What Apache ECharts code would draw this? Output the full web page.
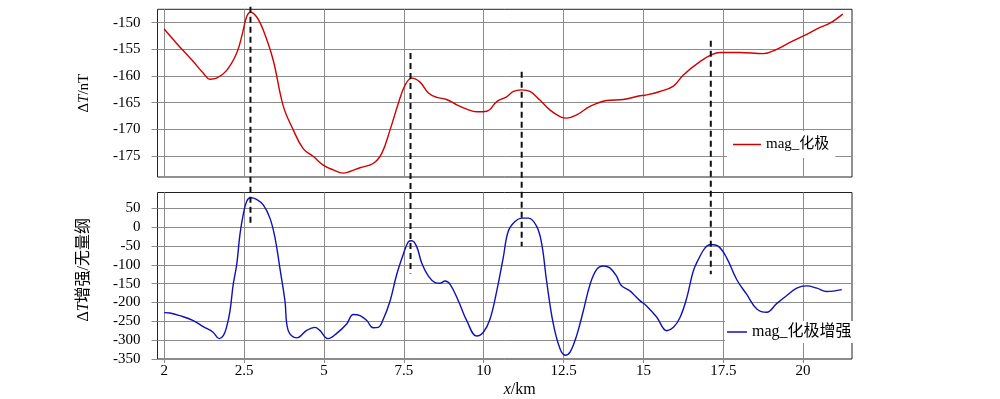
<!DOCTYPE html>
<html>
<head>
<meta charset="utf-8">
<script src="https://cdn.jsdelivr.net/npm/echarts@6/dist/echarts.min.js"></script>
<style>
html, body { margin: 0; padding: 0; background: #fff; }
#main { width: 1000px; height: 399px; }
</style>
</head>
<body>
<div id="main"></div>
<script>
// 横轴刻度（第一格标成 2）
var xTicks = [0, 2.5, 5, 7.5, 10, 12.5, 15, 17.5, 20];
var xTickLabels = ['2', '2.5', '5', '7.5', '10', '12.5', '15', '17.5', '20'];
var magTicks = [-175, -170, -165, -160, -155, -150];
var enhTicks = [-350, -300, -250, -200, -150, -100, -50, 0, 50];

// mag_化极
var magX = [0, 0.39, 0.91, 1.20, 1.43, 1.64, 1.95, 2.27, 2.45, 2.58, 2.70, 2.89, 3.10, 3.41, 3.73, 4.04, 4.35, 4.67, 4.98,
  5.29, 5.60, 5.81, 6.13, 6.54, 6.81, 7.07, 7.33, 7.54, 7.75, 8.00, 8.27, 8.53, 8.84, 9.16, 9.47, 9.78, 10.10,
  10.41, 10.72, 10.93, 11.19, 11.45, 11.76, 12.08, 12.39, 12.60, 12.91, 13.33, 13.85, 14.37, 14.89, 15.05, 15.52,
  15.94, 16.25, 16.77, 17.11, 17.40, 18.02, 18.75, 19.17, 19.59, 20.01, 20.53, 20.84, 21.24];
var magY = [-151.2, -153.9, -157.3, -159.3, -160.6, -160.4, -159.0, -155.7, -152.0, -148.9, -148.05, -148.9, -151.4, -157.0,
  -165.7, -170.1, -173.6, -175.1, -176.7, -177.6, -178.2, -177.9, -177.2, -176.4, -174.5, -170.1, -165.1, -161.7,
  -160.4, -161.1, -163.2, -164.0, -164.4, -165.4, -166.2, -166.7, -166.6, -164.8, -163.9, -162.9, -162.6, -162.9,
  -164.5, -166.4, -167.6, -167.9, -167.3, -165.7, -164.6, -164.4, -163.7, -163.6, -162.9, -161.9, -159.8, -157.3,
  -156.1, -155.6, -155.6, -155.8, -155.0, -153.7, -152.5, -150.9, -150.1, -148.4];

// mag_化极增强
var enhX = [0, 0.18, 0.49, 0.91, 1.22, 1.53, 1.72, 1.85, 1.95, 2.06, 2.16, 2.27, 2.37, 2.47, 2.58, 2.70, 2.89, 3.10,
  3.31, 3.47, 3.62, 3.78, 3.88, 4.15, 4.46, 4.72, 4.87, 5.13, 5.40, 5.71, 5.92, 6.13, 6.34, 6.54, 6.70, 6.86,
  7.07, 7.28, 7.48, 7.64, 7.75, 7.90, 8.06, 8.27, 8.48, 8.63, 8.79, 8.95, 9.21, 9.47, 9.78, 9.99, 10.20, 10.41,
  10.61, 10.77, 10.98, 11.19, 11.40, 11.66, 11.82, 11.97, 12.18, 12.39, 12.55, 12.71, 12.91, 13.12, 13.33, 13.54,
  13.75, 13.95, 14.16, 14.30, 14.58, 14.69, 14.89, 15.10, 15.42, 15.73, 15.94, 16.15, 16.36, 16.56, 16.72, 16.93,
  17.11, 17.35, 17.61, 17.92, 18.23, 18.55, 18.86, 19.17, 19.48, 19.80, 20.11, 20.43, 20.74, 21.21];
var enhY = [-227, -228, -235, -248, -264, -279, -296, -288, -266, -222, -152, -99, -20, 32, 68, 78, 74, 59,
  24, -29, -108, -196, -274, -294, -274, -266, -274, -296, -282, -257, -232, -235, -248, -267, -266, -244,
  -196, -125, -73, -39, -36, -51, -95, -130, -147, -149, -143, -152, -196, -248, -289, -279, -244, -169,
  -82, -11, 15, 24, 24, 2, -46, -143, -257, -323, -340, -331, -288, -222, -152, -112,
  -103, -108, -130, -154, -169, -178, -195, -209, -239, -275, -266, -239, -187, -117, -86, -55,
  -46, -51, -82, -139, -178, -217, -226, -203, -182, -162, -156, -162, -171, -166];

// 虚线：峰值位置，上端(化极 nT)，下端(增强)
var peakX = [2.70, 7.71, 11.19, 17.11];
var peakTopY = [-147, -155.7, -159.2, -153.4];
var peakBotY = [4, -123, -51, -125];

var font = "'Liberation Serif', 'Noto Sans CJK SC', serif";
var gridColor = '#8c8c8c';

function pairs(xs, ys) {
  return xs.map(function (x, i) { return [x, ys[i]]; });
}

var myChart = echarts.init(document.getElementById('main'));

myChart.setOption({
  animation: false,
  backgroundColor: '#fff',
  grid: [
    { left: 157.5, right: 148, top: 9.3, height: 167.7, show: true, borderColor: '#222', borderWidth: 1 },
    { left: 157.5, right: 148, top: 192.5, height: 167.5, show: true, borderColor: '#222', borderWidth: 1 }
  ],
  legend: [
    {
      data: ['mag_化极'], left: 727, top: 131, padding: 6, backgroundColor: '#fff',
      icon: 'rect', itemWidth: 28, itemHeight: 1.5, itemGap: 5,
      textStyle: { fontFamily: font, fontSize: 15, color: '#000' }
    },
    {
      data: ['mag_化极增强'], left: 725, top: 321, padding: [3, 2], backgroundColor: '#fff',
      icon: 'rect', itemWidth: 20, itemHeight: 1.5, itemGap: 6,
      textStyle: { fontFamily: font, fontSize: 16, color: '#000' }
    }
  ],
  xAxis: [
    {
      type: 'value', gridIndex: 0, min: -0.21, max: 21.53,
      axisLine: { show: false, onZero: false },
      axisTick: { show: false, customValues: xTicks },
      axisLabel: { show: false, customValues: xTicks },
      splitLine: { show: true, lineStyle: { color: gridColor, width: 1 } }
    },
    {
      type: 'value', gridIndex: 1, min: -0.21, max: 21.53,
      name: '{i|x}{n|/km}', nameLocation: 'middle', nameGap: 23,
      nameTextStyle: {
        padding: [0, 0, 0, 30],
        rich: {
          i: { fontFamily: font, fontSize: 16, fontStyle: 'italic', color: '#000' },
          n: { fontFamily: font, fontSize: 16, color: '#000' }
        }
      },
      axisLine: { show: false, onZero: false },
      axisTick: { show: true, customValues: xTicks, length: 4, lineStyle: { color: gridColor } },
      axisLabel: {
        customValues: xTicks, margin: 5, fontFamily: font, fontSize: 15, color: '#000',
        formatter: function (v) { return xTickLabels[Math.round(v / 2.5)]; }
      },
      splitLine: { show: true, lineStyle: { color: gridColor, width: 1 } }
    }
  ],
  yAxis: [
    {
      type: 'value', gridIndex: 0, min: -178.93, max: -147.5,
      name: '{n|Δ}{i|T}{n|/nT}', nameLocation: 'middle', nameGap: 66,
      nameTextStyle: {
        rich: {
          i: { fontFamily: font, fontSize: 15, fontStyle: 'italic', color: '#000' },
          n: { fontFamily: font, fontSize: 15, color: '#000' }
        }
      },
      axisLine: { show: false, onZero: false },
      axisTick: { show: true, customValues: magTicks, length: 6, lineStyle: { color: gridColor } },
      axisLabel: { customValues: magTicks, margin: 17, fontFamily: font, fontSize: 15, color: '#000' },
      splitLine: { show: true, lineStyle: { color: gridColor, width: 1 } }
    },
    {
      type: 'value', gridIndex: 1, min: -350, max: 92,
      name: '{n|Δ}{i|T}{n|增强/无量纲}', nameLocation: 'middle', nameGap: 66,
      nameTextStyle: {
        padding: [0, 0, 0, 12],
        rich: {
          i: { fontFamily: font, fontSize: 16, fontStyle: 'italic', color: '#000' },
          n: { fontFamily: font, fontSize: 16, color: '#000' }
        }
      },
      axisLine: { show: false, onZero: false },
      axisTick: { show: true, customValues: enhTicks, length: 6, lineStyle: { color: gridColor } },
      axisLabel: { customValues: enhTicks, margin: 17, fontFamily: font, fontSize: 15, color: '#000' },
      splitLine: { show: true, lineStyle: { color: gridColor, width: 1 } }
    }
  ],
  series: [
    {
      name: 'mag_化极', type: 'line', xAxisIndex: 0, yAxisIndex: 0,
      data: pairs(magX, magY), symbol: 'none', smooth: 0.4,
      lineStyle: { color: '#d00000', width: 1.4 }, itemStyle: { color: '#d00000' }
    },
    {
      name: 'mag_化极增强', type: 'line', xAxisIndex: 1, yAxisIndex: 1,
      data: pairs(enhX, enhY), symbol: 'none', smooth: 0.4,
      lineStyle: { color: '#1010b4', width: 1.4 }, itemStyle: { color: '#1010b4' }
    }
  ]
});

// 跨两个图的黑色虚线
var dashLines = peakX.map(function (x, i) {
  var p1 = myChart.convertToPixel({ gridIndex: 0 }, [x, peakTopY[i]]);
  var p2 = myChart.convertToPixel({ gridIndex: 1 }, [x, peakBotY[i]]);
  return {
    type: 'line', z: 100,
    shape: { x1: p1[0], y1: p1[1], x2: p2[0], y2: p2[1] },
    style: { stroke: '#111', lineWidth: 2, lineDash: [6, 4] }
  };
});
myChart.setOption({ graphic: dashLines });
</script>
</body>
</html>
